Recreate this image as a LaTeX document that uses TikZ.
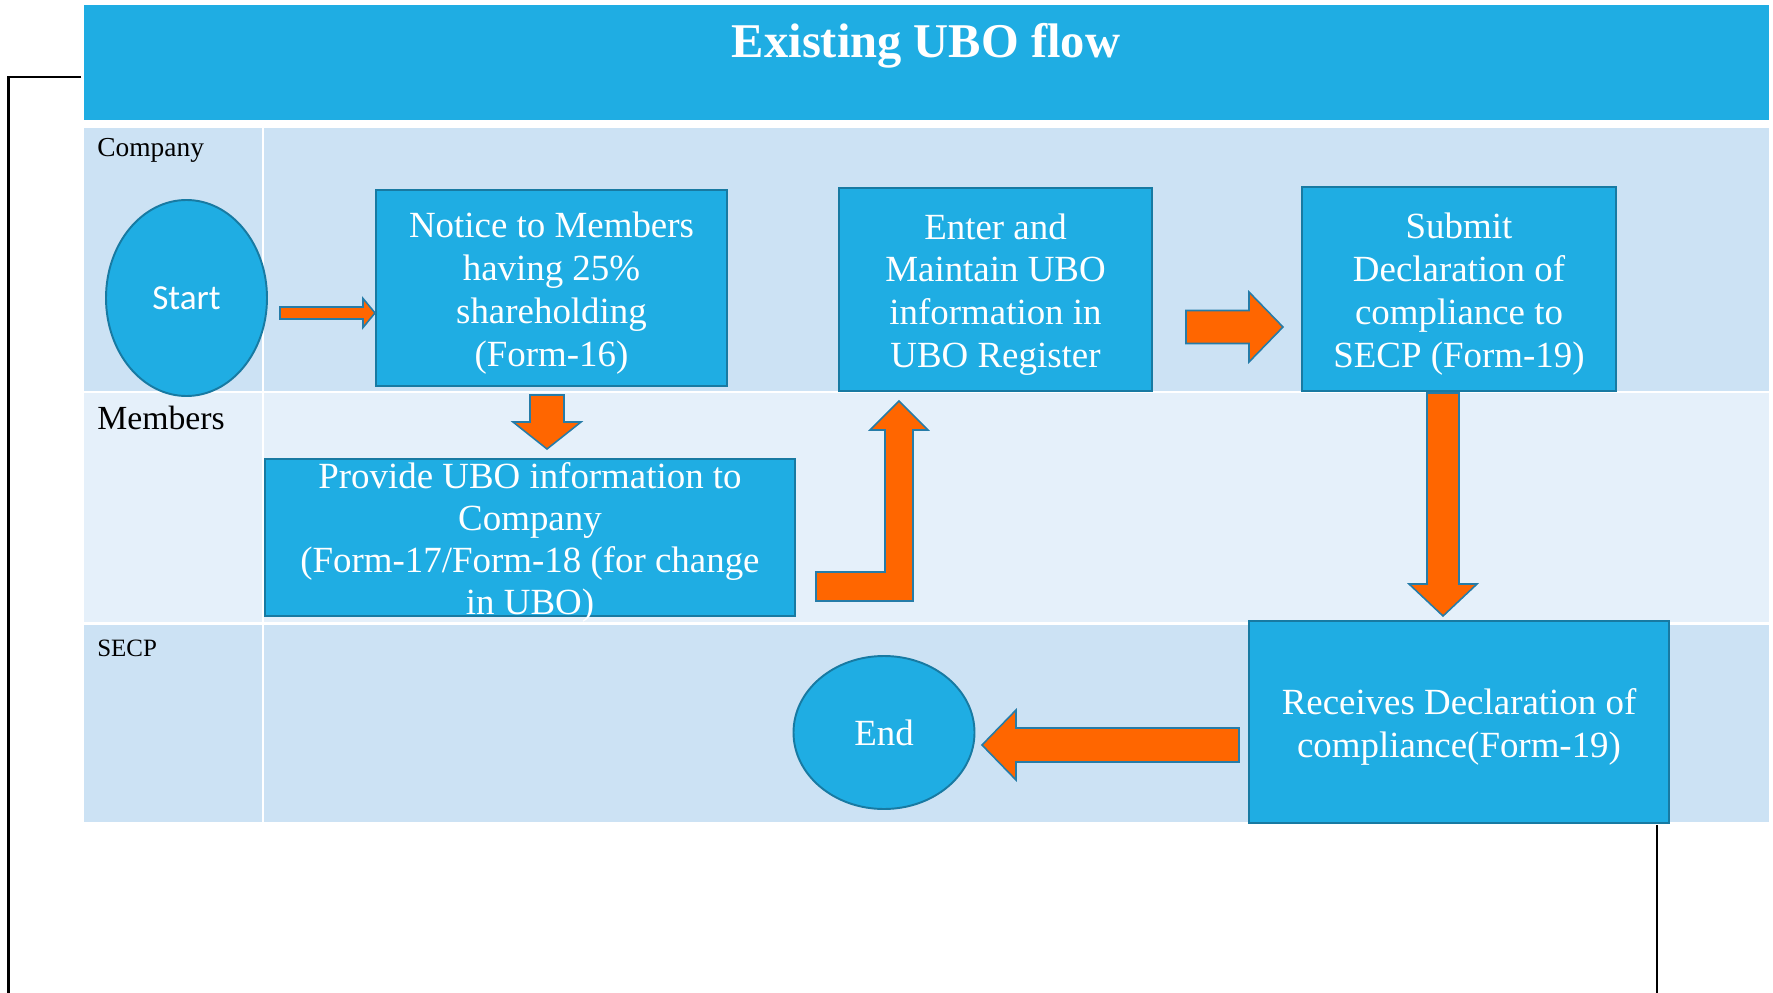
\documentclass[tikz,border=0pt]{standalone}
\usepackage{fontspec}
\setmainfont{Liberation Serif}
\newfontfamily\calibri{Carlito}
\usetikzlibrary{shapes.geometric}
\usetikzlibrary{calc}

\definecolor{barblue}{RGB}{31,173,227}
\definecolor{edgeblue}{RGB}{24,122,162}
\definecolor{laneblue}{RGB}{204,226,244}
\definecolor{lanepale}{RGB}{229,240,250}
\definecolor{arroworange}{RGB}{255,102,0}
\definecolor{arrowedge}{RGB}{38,124,168}

\newcommand{\px}{0.2mm}
% fat arrow from #1 to #2: shaft half width #3, head half width #4, head length #5
\newcommand{\blockarrow}[5]{%
	\coordinate (arrowBase) at ($(#2)!#5*\px!(#1)$);
	\draw[arrowStyle] ($(#1)!#3*\px!90:(#2)$) -- ($(arrowBase)!#3*\px!90:(#2)$)
		-- ($(arrowBase)!#4*\px!90:(#2)$) -- (#2) -- ($(arrowBase)!#4*\px!-90:(#2)$)
		-- ($(arrowBase)!#3*\px!-90:(#2)$) -- ($(#1)!#3*\px!-90:(#2)$) -- cycle;}

\begin{document}
\begin{tikzpicture}[x = 0.2mm, y = -0.2mm]
	\tikzstyle{boxStyle} = [rectangle, fill = barblue, draw = edgeblue, line width = 1.1pt, inner sep = 0pt]
	\tikzstyle{roundStyle} = [ellipse, fill = barblue, draw = edgeblue, line width = 1.1pt, inner sep = 0pt]
	\tikzstyle{whiteText} = [text = white, align = center, inner sep = 0pt, font = \fontsize{21pt}{24.4pt}\selectfont]
	\tikzstyle{boxText} = [whiteText, yshift = -1mm]
	\tikzstyle{laneLabel} = [anchor = base west, inner sep = 0pt]
	\tikzstyle{arrowStyle} = [fill = arroworange, draw = arrowedge, line width = 0.9pt, line join = miter]
	\tikzstyle{frameLine} = [draw = black, line width = 1.2pt]
	\useasboundingbox (0,0) rectangle (1773,993);

	% title bar and swim lanes
	\node[rectangle, fill = barblue, inner sep = 0pt, minimum width = 337mm, minimum height = 23mm] (bar) at (926.5,62.5) {};
	\node[anchor = base, text = white, inner sep = 0pt, font = \fontsize{27.6pt}{30pt}\selectfont\bfseries] (title) at (926,58) {Existing UBO flow};
	\foreach \top/\bot/\col in {128/391/laneblue, 393/622/lanepale, 625/822/laneblue} {
		\fill[\col] (84,\top) rectangle (262,\bot);
		\fill[\col] (264,\top) rectangle (1769,\bot);
	}
	\node[laneLabel, font = \fontsize{15.6pt}{18pt}\selectfont] (company) at (97,157) {Company};
	\node[laneLabel, font = \fontsize{19.2pt}{22pt}\selectfont] (members) at (97,429) {Members};
	\node[laneLabel, font = \fontsize{14.2pt}{18pt}\selectfont] (secp) at (97,656) {SECP};

	% steps
	\node[roundStyle, minimum width = 32.2mm, minimum height = 39.2mm, text = white, font = \calibri\fontsize{20pt}{24pt}\selectfont] (start) at (186.5,298) {Start};
	\node[boxStyle, minimum width = 70.2mm, minimum height = 39.2mm] (notice) at (551.5,288) {};
	\node[boxText] (noticeText) at (notice) {Notice to Members\\ having 25\%\\ shareholding\\ (Form-16)};
	\node[boxStyle, minimum width = 106mm, minimum height = 31.4mm] (provide) at (530,537.5) {};
	\node[boxText, font = \fontsize{21pt}{23.8pt}\selectfont] (provideText) at (provide) {Provide UBO information to\\ Company\\ (Form-17/Form-18 (for change\\ in UBO)};
	\node[boxStyle, minimum width = 62.6mm, minimum height = 40.6mm] (enter) at (995.5,289.5) {};
	\node[boxText] (enterText) at (enter) {Enter and\\ Maintain UBO\\ information in\\ UBO Register};
	\node[boxStyle, minimum width = 62.8mm, minimum height = 40.8mm] (submit) at (1459,289) {};
	\node[boxText] (submitText) at (submit) {Submit\\ Declaration of\\ compliance to\\ SECP (Form-19)};
	\node[boxStyle, minimum width = 84mm, minimum height = 40.4mm] (receives) at (1459,722) {};
	\node[boxText] (receivesText) at (receives) {Receives Declaration of\\ compliance(Form-19)};
	\node[roundStyle, minimum width = 36.2mm, minimum height = 30.6mm] (end) at (884,732.5) {};
	\node[whiteText] (endText) at (end) {End};

	% arrow ends
	\coordinate (toNoticeTail) at (280,313);
	\coordinate (toNoticeTip) at (notice.west |- toNoticeTail);
	\coordinate (toProvideTail) at (547,395);
	\coordinate (toProvideTip) at (547,449);
	\coordinate (toEnterTail) at (816,572);
	\coordinate (toSubmitTail) at (1186,327);
	\coordinate (toSubmitTip) at (1283,327);
	\coordinate (toReceivesTail) at (1443,393);
	\coordinate (toReceivesTip) at (1443,616);
	\coordinate (toEndTail) at (1239,745);
	\coordinate (toEndTip) at (982,745);

	\blockarrow{toNoticeTail}{toNoticeTip}{6}{14.5}{12}
	\blockarrow{toProvideTail}{toProvideTip}{17}{34}{27}
	\draw[arrowStyle] (toEnterTail) -- ++(69,0) -- ++(0,-142) -- ++(-15,0) -- ++(29,-29) -- ++(29,29)
		-- ++(-15,0) -- ++(0,171) -- ++(-97,0) -- cycle;
	\blockarrow{toSubmitTail}{toSubmitTip}{16.5}{35}{34}
	\blockarrow{toReceivesTail}{toReceivesTip}{16}{34}{32}
	\blockarrow{toEndTail}{toEndTip}{17}{35}{34}

	% loose frame lines
	\coordinate (frameTop) at (81,77);
	\coordinate (frameCorner) at (8.5,77);
	\coordinate (frameFoot) at (8.5,993);
	\coordinate (sideTop) at (1657,825);
	\coordinate (sideFoot) at (1657,993);
	\draw[frameLine] (frameTop) -- (frameCorner) -- (frameFoot);
	\draw[frameLine, line width = 0.8pt] (sideTop) -- (sideFoot);
\end{tikzpicture}
\end{document}
